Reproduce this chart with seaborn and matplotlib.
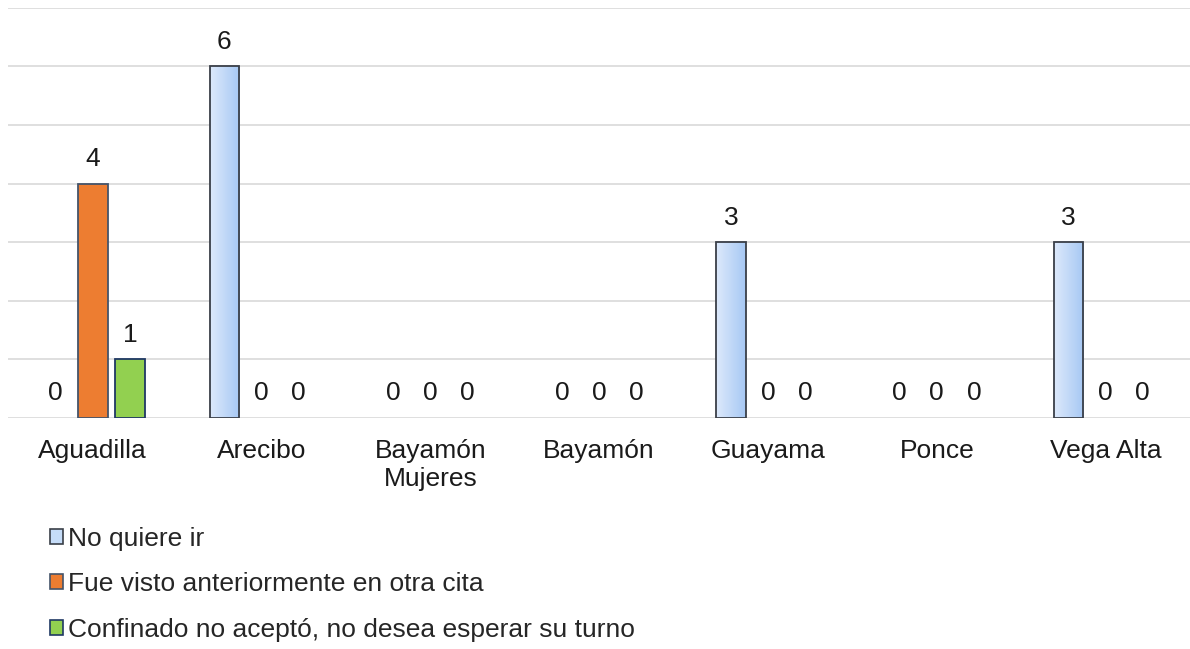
import numpy as np
import pandas as pd
import matplotlib
matplotlib.use('Agg')
from matplotlib import pyplot as plt
from matplotlib.patches import Patch
from matplotlib.colors import LinearSegmentedColormap
import seaborn as sns

centros = ['Aguadilla', 'Arecibo', 'Bayamón\nMujeres', 'Bayamón', 'Guayama', 'Ponce', 'Vega Alta']
motivos = ['No quiere ir', 'Fue visto anteriormente en otra cita',
           'Confinado no aceptó, no desea esperar su turno']
no_quiere = [0, 6, 0, 0, 3, 0, 3]
fue_visto = [4, 0, 0, 0, 0, 0, 0]
confinado = [1, 0, 0, 0, 0, 0, 0]

df = pd.DataFrame({
    'centro': centros * 3,
    'motivo': [motivos[0]] * 7 + [motivos[1]] * 7 + [motivos[2]] * 7,
    'valor': no_quiere + fue_visto + confinado,
})

sns.set_style('white')
plt.rcParams['font.family'] = ['Liberation Sans', 'DejaVu Sans']

fig = plt.figure(figsize=(11.9, 6.49), dpi=100)
ax = fig.add_axes([0.007, 0.356, 0.993, 0.632])

colors = ['#c5dcf8', '#ED7D31', '#92D050']
edges = ['#3a3f48', '#44546a', '#1f3864']
sns.barplot(data=df, x='centro', y='valor', hue='motivo', palette=colors,
            saturation=1, width=0.66, gap=0.2, ax=ax, legend=False, zorder=3)

# degradado horizontal para las barras azules
cmap = LinearSegmentedColormap.from_list('azul', ['#dde9fb', '#a6c8f4'])
grad = np.linspace(0, 1, 64).reshape(1, -1)
for i, cont in enumerate(ax.containers):
    for bar in cont:
        if bar.get_height() == 0:
            bar.set_linewidth(0)
            continue
        bar.set_edgecolor(edges[i])
        bar.set_linewidth(1.3)
        if i == 0:
            x0, y0 = bar.get_x(), bar.get_y()
            im = ax.imshow(grad, cmap=cmap, aspect='auto', zorder=3.5,
                           extent=[x0, x0 + bar.get_width(), y0, y0 + bar.get_height()])
            im.set_clip_path(bar)
            bar.set_facecolor('none')
            bar.set_zorder(4)
    ax.bar_label(cont, fmt='%d', padding=9, fontsize=19, color='#1a1a1a')

ax.set_xlim(-0.5, 6.5)
ax.set_ylim(0, 7)
ax.set_yticks(range(0, 8))
ax.yaxis.grid(True, color='#d9d9d9', linewidth=1.2, zorder=0)
ax.set_yticklabels([])
ax.tick_params(axis='y', length=0)
ax.tick_params(axis='x', length=0, labelsize=19, pad=15, labelcolor='#1a1a1a')
ax.set_xlabel('')
ax.set_ylabel('')
sns.despine(ax=ax, left=True, bottom=True)

handles = [Patch(facecolor=colors[k], edgecolor=edges[k], linewidth=1.2) for k in range(3)]
fig.legend(handles, motivos, loc='upper left', bbox_to_anchor=(0.033, 0.205),
           frameon=False, fontsize=19, handlelength=0.5, handleheight=0.5,
           handletextpad=0.2, labelspacing=0.82, borderaxespad=0)

fig.savefig('out.png', dpi=100)
